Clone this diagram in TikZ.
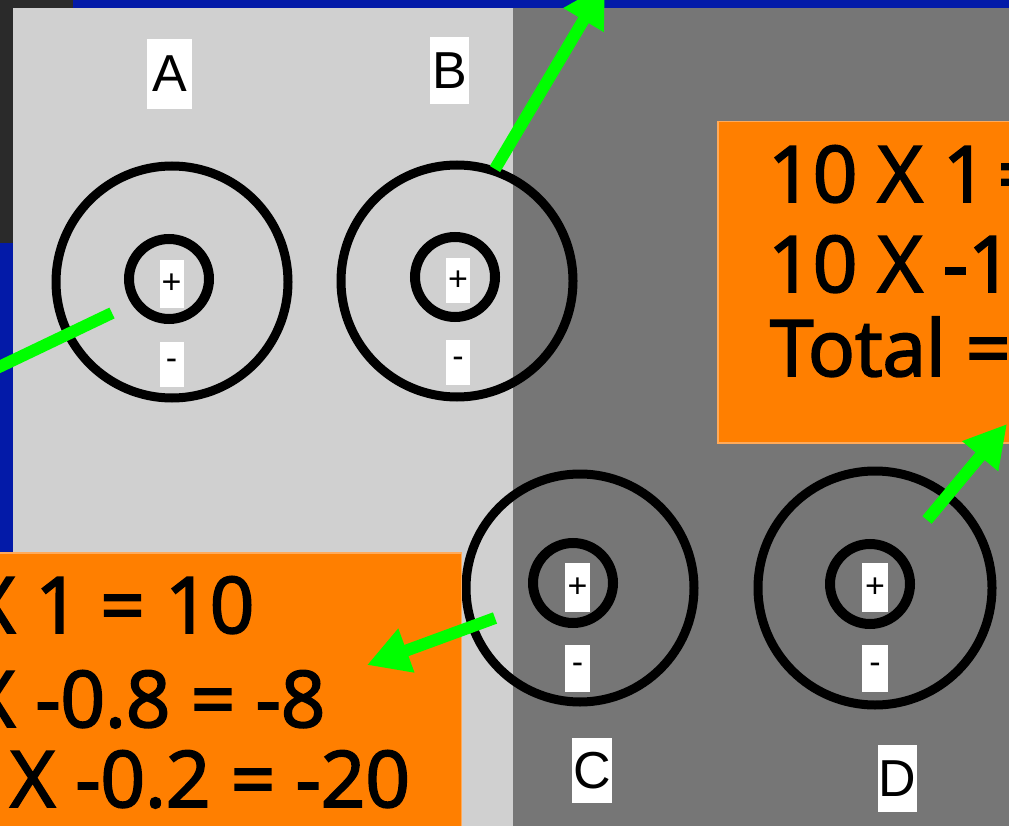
\documentclass[tikz,border=0pt]{standalone}
\usepackage{fontspec}
\newfontfamily\calcfont{Open Sans}[FakeBold=2.5]
\newfontfamily\labelfont{Liberation Sans}
\usetikzlibrary{arrows.meta}
\definecolor{bandblue}{RGB}{3,26,168}
\definecolor{darkbg}{RGB}{42,42,42}
\definecolor{lightphoto}{RGB}{208,208,208}
\definecolor{darkphoto}{RGB}{118,118,118}
\definecolor{boxorange}{RGB}{255,127,0}
\definecolor{boxedge}{RGB}{255,170,90}
\definecolor{arrowgreen}{RGB}{0,255,0}
\begin{document}
\begin{tikzpicture}[x=1pt,y=-1pt,
  ring/.style={draw=black,circle,inner sep=0pt,outer sep=0pt,line width=9pt},
  core/.style={draw=black,circle,inner sep=0pt,outer sep=0pt,line width=10pt},
  pmbox/.style={fill=white,inner sep=0pt,outer sep=0pt,minimum width=24pt,minimum height=47pt,font=\labelfont\fontsize{34}{34}\selectfont},
  letterbox/.style={fill=white,inner sep=0pt,outer sep=0pt,font=\labelfont\fontsize{52}{52}\selectfont},
  obox/.style={fill=boxorange,draw=boxedge,line width=1.5pt,inner sep=0pt},
  calc/.style={font=\calcfont\fontsize{78}{90}\selectfont,inner sep=0pt,text=black},
  pointer/.style={draw=arrowgreen,line width=12pt,-{Triangle[length=42pt,width=44pt]}}
]
\useasboundingbox (0,0) rectangle (1009,826);
\clip (0,0) rectangle (1009,826);
% backgrounds
\fill[darkbg] (0,0) rectangle (1009,826);
\fill[bandblue] (73,0) rectangle (1009,8);
\fill[bandblue] (0,243) rectangle (13,826);
\fill[lightphoto] (13,8) rectangle (513,826);
\fill[darkphoto] (513,8) rectangle (1009,826);

% circle A
\node[ring,minimum size=232pt] (Aring) at (172,282) {};
\node[core,minimum size=80pt] (Acore) at (169,279) {};
\node[pmbox] (Aplus) at (171.5,284) {+};
\node[pmbox,minimum height=45pt] (Aminus) at (171.5,364.5) {-\hspace{6pt}};
\node[letterbox,minimum width=45pt,minimum height=70pt] (Alab) at (169.5,74) {A};

% circle B
\node[ring,minimum size=232pt] (Bring) at (457,281) {};
\node[core,minimum size=80pt] (Bcore) at (455,277) {};
\node[pmbox,minimum height=45pt] (Bplus) at (458,280.5) {+};
\node[pmbox,minimum height=45pt] (Bminus) at (458,362.5) {-\hspace{6pt}};
\node[letterbox,minimum width=39pt,minimum height=67pt] (Blab) at (449.5,70.5) {B};

% circle C
\node[ring,minimum size=228pt] (Cring) at (580,588) {};
\node[core,minimum size=80pt] (Ccore) at (573,583) {};
\node[pmbox,minimum width=25pt,minimum height=49pt] (Cplus) at (577.5,587.5) {+};
\node[pmbox,minimum width=25pt,minimum height=47pt] (Cminus) at (577.5,668.5) {-\hspace{6pt}};
\node[letterbox,minimum width=40pt,minimum height=65pt] (Clab) at (592,770.5) {C};

% circle D
\node[ring,minimum size=234pt] (Dring) at (875,588) {};
\node[core,minimum size=80pt] (Dcore) at (870,584) {};
\node[pmbox,minimum width=26pt,minimum height=49pt] (Dplus) at (875,587.5) {+};
\node[pmbox,minimum width=26pt,minimum height=47pt] (Dminus) at (875,668.5) {-\hspace{6pt}};
\node[letterbox,minimum width=39pt,minimum height=67pt] (Dlab) at (897.5,778.5) {D};

% orange boxes
\node[obox,anchor=north west,minimum width=420pt,minimum height=321pt] (Rbox) at (717,121) {};
\node[obox,anchor=north east,minimum width=500pt,minimum height=320pt] (Lbox) at (462,552) {};

\node[calc,anchor=base west] (R1) at (768,202) {10 X 1\kern10pt=};
\node[calc,anchor=base west] (R2) at (768,292) {10 X -1};
\node[calc,anchor=base west] (R3) at (770,376) {Total =};

\node[calc,anchor=base west] (L1) at (-30,633) {X 1 = 10};
\node[calc,anchor=base west] (L2) at (-30,727) {X -0.8 = -8};
\node[calc,anchor=base west] (L3) at (10,807) {X -0.2 = -20};

% green pointers
\coordinate (Afrom) at (112,313);
\coordinate (Ato) at (-70,400);
\coordinate (Bfrom) at (495,169);
\coordinate (Bto) at (605,-16);
\coordinate (Cfrom) at (495,618);
\coordinate (Cto) at (367,665);
\coordinate (Dfrom) at (927,520);
\coordinate (Dto) at (1007,424);
\draw[pointer] (Afrom) -- (Ato);
\draw[pointer] (Bfrom) -- (Bto);
\draw[pointer] (Cfrom) -- (Cto);
\draw[pointer] (Dfrom) -- (Dto);
\end{tikzpicture}
\end{document}
